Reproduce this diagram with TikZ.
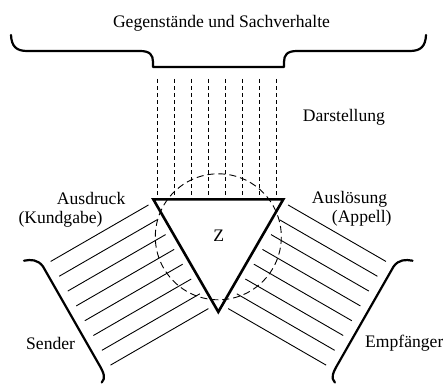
\documentclass[tikz,border=0pt]{standalone}
\usepackage{fontspec}
\setmainfont{Liberation Serif}
\begin{document}
\begin{tikzpicture}[x=1pt,y=-1pt,
  lbl/.style={inner sep=0pt, font=\fontsize{17.6}{20}\selectfont},
  brace/.style={line width=2.2pt, line cap=round, line join=round},
  tri/.style={line width=2.6pt},
  hatch/.style={line width=0.9pt},
  ray/.style={line width=0.9pt, dash pattern=on 4pt off 3pt},
  circ/.style={line width=0.9pt, dash pattern=on 7pt off 4pt}]
\useasboundingbox (0,0) rectangle (443,385);
\fill[white] (0,0) rectangle (443,385);

\coordinate (A) at (153.3,199.3);
\coordinate (B) at (283.3,199.3);
\coordinate (C) at (218.3,311.9);
\coordinate (M) at (218.3,236.8);

% dashed rays (Darstellung)
\foreach \i in {0,...,7} {
  \coordinate (rt\i) at ({157+17.1*\i},79);
  \coordinate (rb\i) at ({157+17.1*\i},199.3);
  \draw[ray] (rt\i) -- (rb\i);
}

% dashed circle
\draw[circ] (M) circle[radius=63];

% hatching left and right
\foreach \i in {0,...,7} {
  \pgfmathsetmacro\s{2.5+17.1*\i}
  \coordinate (le\i) at ({147.24+0.5*\s},{202.8+0.866*\s});
  \coordinate (ls\i) at ({49.38+0.5*\s},{259.3+0.866*\s});
  \coordinate (re\i) at ({289.36-0.5*\s},{202.8+0.866*\s});
  \coordinate (rs\i) at ({387.22-0.5*\s},{259.3+0.866*\s});
  \draw[hatch] (ls\i) -- (le\i);
  \draw[hatch] (rs\i) -- (re\i);
}

% triangle
\draw[tri] (A) -- (B) -- (C) -- cycle;

% top brace
\draw[brace] (11,35) .. controls (11.5,46) and (16,51) .. (27,51) -- (140,51)
  .. controls (150,51) and (153,55) .. (153,62) -- (153,67) -- (284,67) -- (284,62)
  .. controls (284,55) and (287,51) .. (297,51) -- (410,51)
  .. controls (421,51) and (425.5,46) .. (426,35);

% left brace (Sender)
\draw[brace] (24,260.7) .. controls (31,259.3) and (38,259.5) .. (43,266.5)
  -- (98.3,363.3) .. controls (104,373) and (106,378) .. (101.7,382.5);

% right brace (Empfaenger)
\draw[brace] (412.6,260.7) .. controls (405.6,259.3) and (398.6,259.5) .. (393.6,266.5)
  -- (338.3,363.3) .. controls (332.6,373) and (330.6,378) .. (334.9,382.5);

% labels
\node[lbl, anchor=base] (gs) at (221.5,28) {Gegenstände und Sachverhalte};
\node[lbl, anchor=base west] (dar) at (302.7,121) {Darstellung};
\node[lbl, anchor=base west] (aus) at (56.7,204) {Ausdruck};
\node[lbl, anchor=base west] (kund) at (18.3,223) {(Kundgabe)};
\node[lbl] (z) at (218.8,236) {Z};
\node[lbl, anchor=base west] (ausl) at (311.7,203) {Auslösung};
\node[lbl, anchor=base west] (app) at (331.7,222) {(Appell)};
\node[lbl, anchor=base west] (send) at (26,349.3) {Sender};
\node[lbl, anchor=base west] (emp) at (365,347.5) {Empfänger};
\end{tikzpicture}
\end{document}
